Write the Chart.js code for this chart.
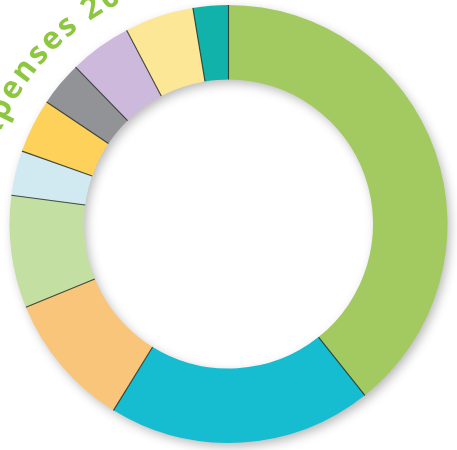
<!DOCTYPE html>
<html>
<head>
<meta charset="utf-8">
<script src="https://cdn.jsdelivr.net/npm/chart.js@4.4.1/dist/chart.umd.min.js"></script>
<style>
  html, body { margin: 0; padding: 0; background: #fff; }
  #contenedor { width: 457px; height: 450px; position: relative; }
</style>
</head>
<body>
<div id="contenedor"><canvas id="canvasGrafica"></canvas></div>
<script>
const titulo = "Expenses 2012";
const categorias = ["Category 1", "Category 2", "Category 3", "Category 4", "Category 5",
                    "Category 6", "Category 7", "Category 8", "Category 9", "Category 10"];
const porcentajes = [39.3, 19.5, 10.0, 8.3, 3.3, 4.0, 3.3, 4.6, 5.1, 2.6];
const colores = ["#a2ca61", "#16bccf", "#f8c57a", "#c4dfa2", "#d1eaf1",
                 "#fdd15a", "#929396", "#cdb9db", "#fbe796", "#10b2aa"];

// sombra suave bajo el anillo (exterior abajo-derecha, interior arriba-izquierda)
const sombraAnillo = {
    id: "sombraAnillo",
    beforeDatasetsDraw(chart) {
        const arco = chart.getDatasetMeta(0).data[0];
        if (!arco) return;
        const { x, y, innerRadius, outerRadius } = arco.getProps(["x", "y", "innerRadius", "outerRadius"], true);
        const ctx = chart.ctx;
        ctx.save();
        ctx.beginPath();
        ctx.arc(x, y, outerRadius - 1, 0, Math.PI * 2);
        ctx.arc(x, y, innerRadius + 1, 0, Math.PI * 2, true);
        ctx.shadowColor = "rgba(0,0,0,0.3)";
        ctx.shadowBlur = 11;
        ctx.shadowOffsetX = 3;
        ctx.shadowOffsetY = 4;
        ctx.fillStyle = "#fff";
        ctx.fill();
        ctx.restore();
    }
};

// líneas oscuras finas entre porciones
const separadores = {
    id: "separadores",
    afterDatasetsDraw(chart) {
        const ctx = chart.ctx;
        ctx.save();
        ctx.strokeStyle = "rgba(35,45,35,0.85)";
        ctx.lineWidth = 1.1;
        chart.getDatasetMeta(0).data.forEach(arco => {
            const { x, y, startAngle, innerRadius, outerRadius } =
                arco.getProps(["x", "y", "startAngle", "innerRadius", "outerRadius"], true);
            ctx.beginPath();
            ctx.moveTo(x + Math.cos(startAngle) * innerRadius, y + Math.sin(startAngle) * innerRadius);
            ctx.lineTo(x + Math.cos(startAngle) * outerRadius, y + Math.sin(startAngle) * outerRadius);
            ctx.stroke();
        });
        ctx.restore();
    }
};

// título curvado siguiendo el borde del anillo
const tituloCurvo = {
    id: "tituloCurvo",
    afterDraw(chart) {
        const arco = chart.getDatasetMeta(0).data[0];
        if (!arco) return;
        const { x, y, outerRadius } = arco.getProps(["x", "y", "outerRadius"], true);
        const ctx = chart.ctx;
        ctx.save();
        ctx.font = 'bold 31px "Open Sans", sans-serif';
        ctx.fillStyle = "#8dc63f";
        ctx.textAlign = "center";
        ctx.textBaseline = "alphabetic";
        const radio = outerRadius + 27;
        const espaciado = 2.5;
        const anchos = [...titulo].map(c => ctx.measureText(c).width + espaciado);
        // el "2" del año queda centrado hacia los 327.6° (desde las 12, horario)
        const idxAnio = titulo.indexOf("2");
        let acumulado = 0;
        for (let i = 0; i < idxAnio; i++) acumulado += anchos[i];
        acumulado += anchos[idxAnio] / 2;
        let angulo = 327.6 * Math.PI / 180 - acumulado / radio;
        [...titulo].forEach((c, i) => {
            const centro = angulo + anchos[i] / 2 / radio;
            ctx.save();
            ctx.translate(x + radio * Math.sin(centro), y - radio * Math.cos(centro));
            ctx.rotate(centro);
            ctx.fillText(c, 0, 0);
            ctx.restore();
            angulo += anchos[i] / radio;
        });
        ctx.restore();
    }
};

function crearGrafica() {
    const ctx = document.getElementById("canvasGrafica").getContext("2d");
    new Chart(ctx, {
        type: "doughnut",
        data: {
            labels: categorias,
            datasets: [{
                data: porcentajes,
                backgroundColor: colores,
                borderWidth: 0,
                hoverOffset: 0
            }]
        },
        options: {
            responsive: true,
            maintainAspectRatio: false,
            animation: false,
            cutout: "66%",
            layout: { padding: { top: 5, bottom: 7, left: 0, right: 0 } },
            plugins: { legend: { display: false }, tooltip: { enabled: false } }
        },
        plugins: [sombraAnillo, separadores, tituloCurvo]
    });
}

crearGrafica();
</script>
</body>
</html>
